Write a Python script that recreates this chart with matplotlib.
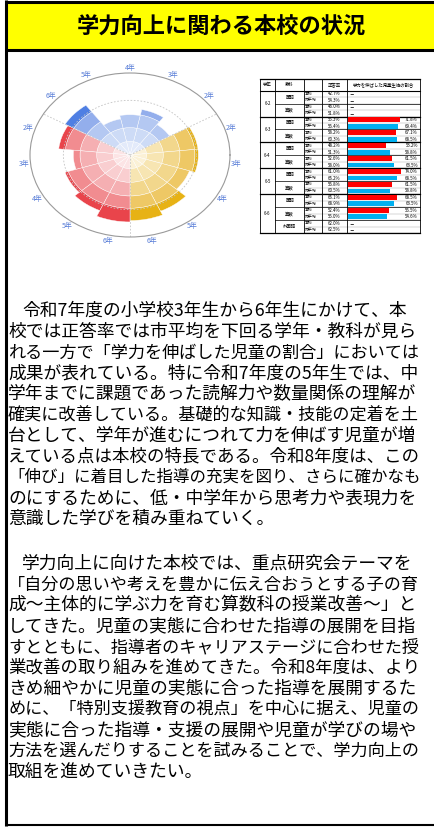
import numpy as np
import matplotlib.pyplot as plt

plt.rcParams['font.family'] = ['Noto Sans CJK JP', 'DejaVu Sans']

W, H = 434, 827

title = '学力向上に関わる本校の状況'

# rose chart: three colour groups, grades 2-6 in each
rose_labels = ['2年', '3年', '4年', '5年', '6年']
blue_vals = [55, 68, 59, 54, 90]
gold_vals = [82, 82, 75, 90, 96]
red_vals = [86, 68, 82, 89, 98]

# table on the right
tbl_header = ['学年', '教科', '', '正答率', '学力を伸ばした児童生徒の割合']
tbl_grades = ['6-2', '6-3', '6-4', '6-5', '6-6']
tbl_subjects = [['国語', '算数'], ['国語', '算数'], ['国語', '算数'],
                ['国語', '算数'], ['国語', '算数', '外国語']]
tbl_kinds = ['本校', '市平均']
tbl_rate = [42.7, 54.3, 46.0, 51.8, 55.3, 56.4, 58.2, 60.3, 48.2, 51.3, 52.6,
            58.0, 61.0, 65.2, 56.8, 60.5, 65.1, 68.9, 52.4, 55.0, 62.0, 62.5]
tbl_growth = [None, None, None, None,
              71.8, 69.4, 67.1, 68.5,
              53.2, 58.8, 61.5, 63.5,
              74.0, 68.5, 61.5, 58.8,
              68.5, 63.5, 56.5, 54.6,
              None, None]

para1 = [
    '令和7年度の小学校3年生から6年生にかけて、本',
    '校では正答率では市平均を下回る学年・教科が見ら',
    'れる一方で「学力を伸ばした児童の割合」においては',
    '成果が表れている。特に令和7年度の5年生では、中',
    '学年までに課題であった読解力や数量関係の理解が',
    '確実に改善している。基礎的な知識・技能の定着を土',
    '台として、学年が進むにつれて力を伸ばす児童が増',
    'えている点は本校の特長である。令和8年度は、この',
    '「伸び」に着目した指導の充実を図り、さらに確かなも',
    'のにするために、低・中学年から思考力や表現力を',
    '意識した学びを積み重ねていく。',
]
para2 = [
    '学力向上に向けた本校では、重点研究会テーマを',
    '「自分の思いや考えを豊かに伝え合おうとする子の育',
    '成～主体的に学ぶ力を育む算数科の授業改善～」と',
    'してきた。児童の実態に合わせた指導の展開を目指',
    'すとともに、指導者のキャリアステージに合わせた授',
    '業改善の取り組みを進めてきた。令和8年度は、より',
    'きめ細やかに児童の実態に合った指導を展開するた',
    'めに、「特別支援教育の視点」を中心に据え、児童の',
    '実態に合った指導・支援の展開や児童が学びの場や',
    '方法を選んだりすることを試みることで、学力向上の',
    '取組を進めていきたい。',
]


def px_box(x0, y0, x1, y1):
    return [x0 / W, 1 - y1 / H, (x1 - x0) / W, (y1 - y0) / H]


fig = plt.figure(figsize=(W / 100, H / 100), dpi=100)
bg = fig.add_axes([0, 0, 1, 1])
bg.set_xlim(0, W)
bg.set_ylim(H, 0)
bg.axis('off')

# title band and frame
bg.add_patch(plt.Rectangle((5, 1.5), W, 48.5, facecolor='#ffff00', edgecolor='none'))
bg.plot([5, W], [1.5, 1.5], color='black', lw=2.2, solid_capstyle='butt')
bg.plot([5, W], [50, 50], color='black', lw=2.2, solid_capstyle='butt')
bg.plot([5.5, 5.5], [0, 826], color='black', lw=2.2, solid_capstyle='butt')
bg.plot([5, W], [825, 825], color='black', lw=1.5, solid_capstyle='butt')
bg.text(221, 26, title, ha='center', va='center', fontsize=16, fontweight='bold')

# rose chart
rax = fig.add_axes(px_box(30, 73, 230, 237), projection='polar')
rax.set_aspect('auto')
rax.set_ylim(0, 120)
rax.set_xticks([])
rax.set_yticks([])
rax.grid(False)
rax.spines['polar'].set_edgecolor('#9a9a9a')
rax.spines['polar'].set_linewidth(0.8)

band_edges = [0, 20, 40, 60, 78, 120]
blue_shades = ['#e3eafa', '#cddbf6', '#b4c8f2', '#93aeec', '#4f7fe3']
gold_shades = ['#fbf1d6', '#f7e5b2', '#f2d78c', '#eec865', '#e7b215']
red_shades = ['#fce4e5', '#f9ced0', '#f5afb2', '#f18c90', '#e9444b']

groups = [(blue_vals, 42, 24, blue_shades),
          (gold_vals, 18, -24, gold_shades),
          (red_vals, 162, 24, red_shades)]
width = np.deg2rad(24)
for vals, start, step, cols in groups:
    vals = np.array(vals, dtype=float)
    theta = np.deg2rad(start + step * np.arange(len(vals)))
    for k in range(len(band_edges) - 1):
        lo = band_edges[k]
        h = np.minimum(vals, band_edges[k + 1]) - lo
        m = h > 0
        rax.bar(theta[m], h[m], width=width, bottom=lo, color=cols[k],
                edgecolor='white', linewidth=0.3)
    for t, lab in zip(theta, rose_labels):
        rax.text(t, 128, lab, color='#5a7fd8', fontsize=5, ha='center',
                 va='center', clip_on=False)

ring = np.linspace(0, 2 * np.pi, 300)
rax.plot(ring, np.full_like(ring, 80), color='#c4c4c4', lw=0.6, ls=(0, (2, 2)))
for ang in [30, 150, 270]:
    rax.plot([np.deg2rad(ang)] * 2, [0, 120], color='#c4c4c4', lw=0.6, ls=(0, (2, 2)))

# table
tx0, tx1, ty0, ty1 = 260, 420, 79, 233
n_rows = len(tbl_rate)
head = -1.8
col_x = [260, 275, 304, 322, 347, 420]

tax = fig.add_axes(px_box(tx0, ty0, tx1, ty1))
tax.set_xlim(tx0, tx1)
tax.set_ylim(n_rows, head)
tax.axis('off')

fs = 3.2
for i, h in enumerate(tbl_header):
    tax.text((col_x[i] + col_x[i + 1]) / 2, head / 2, h, ha='center', va='center', fontsize=fs)

row = 0
for g, subs in zip(tbl_grades, tbl_subjects):
    g0 = row
    for s in subs:
        tax.text((col_x[1] + col_x[2]) / 2, row + 1, s, ha='center', va='center', fontsize=fs)
        for k, kind in enumerate(tbl_kinds):
            r = row + k
            tax.text(col_x[2] + 1, r + 0.5, kind, ha='left', va='center', fontsize=fs - 0.4)
            tax.text((col_x[3] + col_x[4]) / 2, r + 0.5, f'{tbl_rate[r]:.1f}%',
                     ha='center', va='center', fontsize=fs)
            tax.plot([col_x[2], col_x[5]], [r + 1, r + 1], color='#a0a0a0', lw=0.3, clip_on=False)
        row += 2
        tax.plot([col_x[1], col_x[5]], [row, row], color='black', lw=0.5, clip_on=False)
    tax.text((col_x[0] + col_x[1]) / 2, (g0 + row) / 2, g, ha='center', va='center', fontsize=fs)
    tax.plot([col_x[0], col_x[5]], [row, row], color='black', lw=0.9, clip_on=False)

tax.plot([col_x[0], col_x[5]], [head, head], color='black', lw=0.9, clip_on=False)
tax.plot([col_x[0], col_x[5]], [0, 0], color='black', lw=0.8, clip_on=False)
for x in col_x:
    tax.plot([x, x], [head, n_rows], color='black', lw=0.6, clip_on=False)

bax = fig.add_axes(px_box(348, ty0, 420, ty1))
bax.set_xlim(0, 100)
bax.set_ylim(n_rows, head)
bax.axis('off')
for r, v in enumerate(tbl_growth):
    if v is None:
        bax.text(2, r + 0.5, '－', ha='left', va='center', fontsize=fs)
        continue
    bax.barh(r + 0.5, v, height=0.75, color='#ff0000' if r % 2 == 0 else '#00b0f0')
    bax.text(97, r + 0.5, f'{v:.1f}%', ha='right', va='center', fontsize=fs)

# body text
texts = []
for i, line in enumerate(para1):
    texts.append(bg.text(22 if i == 0 else 8, 311 + 20.8 * i, line,
                         fontsize=12.8, ha='left', va='center'))
for i, line in enumerate(para2):
    texts.append(bg.text(22 if i == 0 else 8, 564 + 20.8 * i, line,
                         fontsize=12.8, ha='left', va='center'))

fig.canvas.draw()
rend = fig.canvas.get_renderer()
for t in texts:
    x0 = t.get_position()[0]
    room = 419 - x0
    wpx = t.get_window_extent(rend).width
    if wpx > room:
        t.set_fontsize(t.get_fontsize() * room / wpx)

fig.savefig('out.png', dpi=100)
